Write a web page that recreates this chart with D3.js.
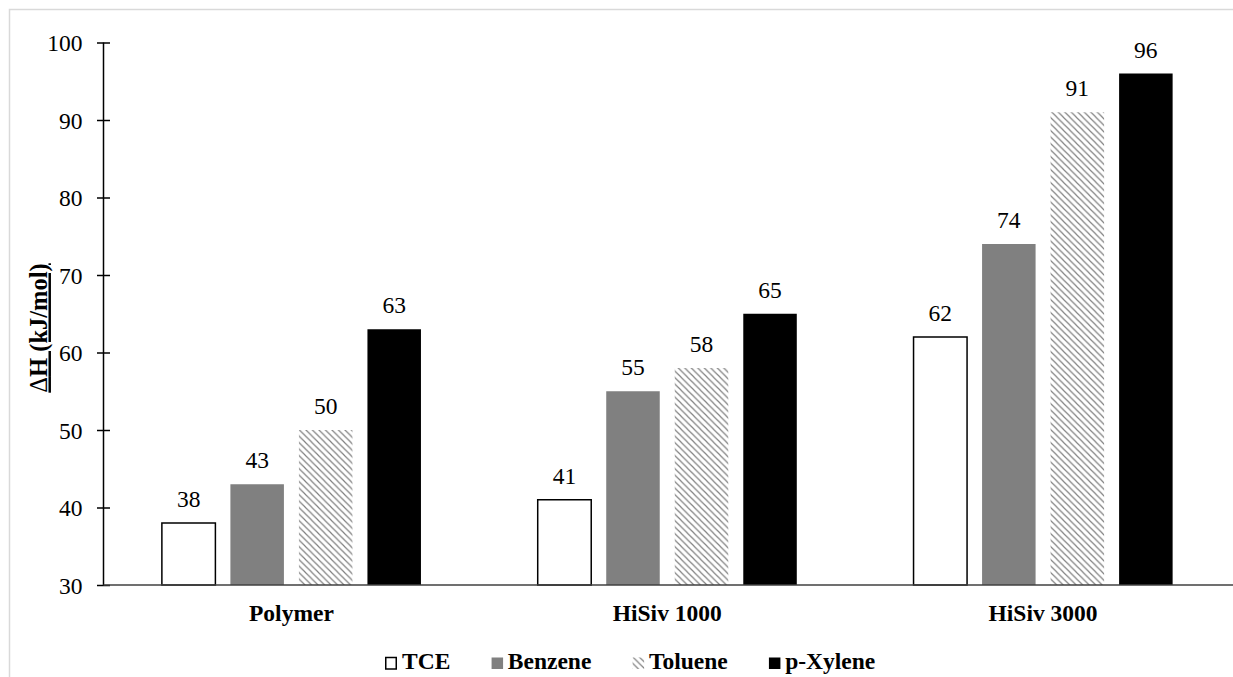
<!DOCTYPE html>
<html>
<head>
<meta charset="utf-8">
<script src="https://cdn.jsdelivr.net/npm/d3@7"></script>
<style>
  html, body { margin: 0; padding: 0; background: #fff; }
  svg { display: block; }
</style>
</head>
<body>
<svg id="chart" width="1233" height="677"></svg>
<script>
// Adsorption enthalpy by adsorbent and compound
const categories = ["Polymer", "HiSiv 1000", "HiSiv 3000"];
const seriesNames = ["TCE", "Benzene", "Toluene", "p-Xylene"];
const tce     = [38, 41, 62];
const benzene = [43, 55, 74];
const toluene = [50, 58, 91];
const xylene  = [63, 65, 96];
const yTicks  = [30, 40, 50, 60, 70, 80, 90, 100];

const seriesValues = [tce, benzene, toluene, xylene];
const rows = categories.map((c, i) => ({
  category: c,
  values: seriesNames.map((s, j) => ({ series: s, value: seriesValues[j][i] }))
}));

const FONT = '"Liberation Serif", "Times New Roman", Times, serif';
const FS = "23.5px";

const svg = d3.select("#chart");
const margin = { left: 103.5, right: 2, top: 42.5, bottom: 92 };
const W = 1233, H = 677;

// outer chart frame
svg.append("rect")
  .attr("x", 9.5).attr("y", 9.5)
  .attr("width", W + 20).attr("height", H + 20)
  .attr("fill", "none").attr("stroke", "#d9d9d9").attr("stroke-width", 1.5);

// diagonal hatch for Toluene
const defs = svg.append("defs");
const pat = defs.append("pattern")
  .attr("id", "hatch").attr("patternUnits", "userSpaceOnUse")
  .attr("width", 6.5).attr("height", 6.5);
pat.append("path")
  .attr("d", "M-1,-1 L7.5,7.5 M-1,5.5 L1,7.5 M5.5,-1 L7.5,1")
  .attr("stroke", "#7d7d7d").attr("stroke-width", 1.15);

const fills = {
  "TCE": "#ffffff",
  "Benzene": "#808080",
  "Toluene": "url(#hatch)",
  "p-Xylene": "#000000"
};

const x0 = d3.scaleBand()
  .domain(categories)
  .range([margin.left, W - margin.right])
  .paddingInner(0).paddingOuter(0);

const x1 = d3.scaleBand()
  .domain(seriesNames)
  .range([0, x0.bandwidth()])
  .paddingInner(0.219).paddingOuter(0.852);

const y = d3.scaleLinear()
  .domain([30, 100])
  .range([H - margin.bottom, margin.top]);

// y axis
const yAxis = svg.append("g")
  .attr("transform", `translate(${margin.left},0)`)
  .call(d3.axisLeft(y).tickValues(yTicks).tickSize(0).tickPadding(0));
yAxis.select(".domain").remove();
yAxis.selectAll(".tick text")
  .attr("x", -21).attr("dy", "0.34em")
  .style("font-family", FONT)
  .style("font-size", FS).attr("fill", "#000");
yAxis.selectAll(".tick").append("line")
  .attr("x1", -6.5).attr("x2", 6.5)
  .attr("stroke", "#000").attr("stroke-width", 1.5);
yAxis.append("line")
  .attr("y1", y(30)).attr("y2", y(100))
  .attr("stroke", "#000").attr("stroke-width", 1.5);

// bars
const groups = svg.append("g").selectAll("g")
  .data(rows).join("g")
  .attr("transform", d => `translate(${x0(d.category)},0)`);

groups.selectAll("rect")
  .data(d => d.values).join("rect")
  .attr("x", d => x1(d.series))
  .attr("width", x1.bandwidth())
  .attr("y", d => y(d.value))
  .attr("height", d => y(30) - y(d.value))
  .attr("fill", d => fills[d.series])
  .attr("stroke", d => d.series === "TCE" ? "#000" : "none")
  .attr("stroke-width", 1.5);

groups.selectAll("text.val")
  .data(d => d.values).join("text")
  .attr("class", "val")
  .attr("x", d => x1(d.series) + x1.bandwidth() / 2)
  .attr("y", d => y(d.value) - 16)
  .attr("text-anchor", "middle")
  .style("font-family", FONT)
  .style("font-size", FS)
  .text(d => d.value);

// x axis baseline and category labels
svg.append("line")
  .attr("x1", margin.left).attr("x2", W)
  .attr("y1", y(30)).attr("y2", y(30))
  .attr("stroke", "#404040").attr("stroke-width", 1.5);

svg.append("g").selectAll("text")
  .data(categories).join("text")
  .attr("x", d => x0(d) + x0.bandwidth() / 2)
  .attr("y", y(30) + 35.5)
  .attr("text-anchor", "middle")
  .style("font-family", FONT)
  .style("font-size", FS).style("font-weight", "bold")
  .text(d => d);

// y axis title
const yTitle = svg.append("text")
  .attr("transform", "translate(46.5,328) rotate(-90)")
  .attr("text-anchor", "middle")
  .style("font-family", FONT)
  .style("font-size", "24.5px").style("font-weight", "bold")
  .style("text-decoration", "underline");
yTitle.append("tspan").style("font-weight", "normal").text("Δ");
yTitle.append("tspan").text("H (kJ/mol)");

// legend
const legend = svg.append("g").attr("transform", "translate(385,669)");
let lx = 0;
seriesNames.forEach(s => {
  const g = legend.append("g").attr("transform", `translate(${lx},0)`);
  g.append("rect")
    .attr("x", 0.75).attr("y", -11.5)
    .attr("width", s === "TCE" ? 10.5 : 11.5).attr("height", 11.5)
    .attr("fill", fills[s])
    .attr("stroke", s === "TCE" ? "#000" : "none").attr("stroke-width", 1.5);
  const t = g.append("text")
    .attr("x", 17).attr("y", 0)
    .style("font-family", FONT)
    .style("font-size", FS).style("font-weight", "bold")
    .text(s);
  lx += 17 + t.node().getComputedTextLength() + 40.5;
});
</script>
</body>
</html>
